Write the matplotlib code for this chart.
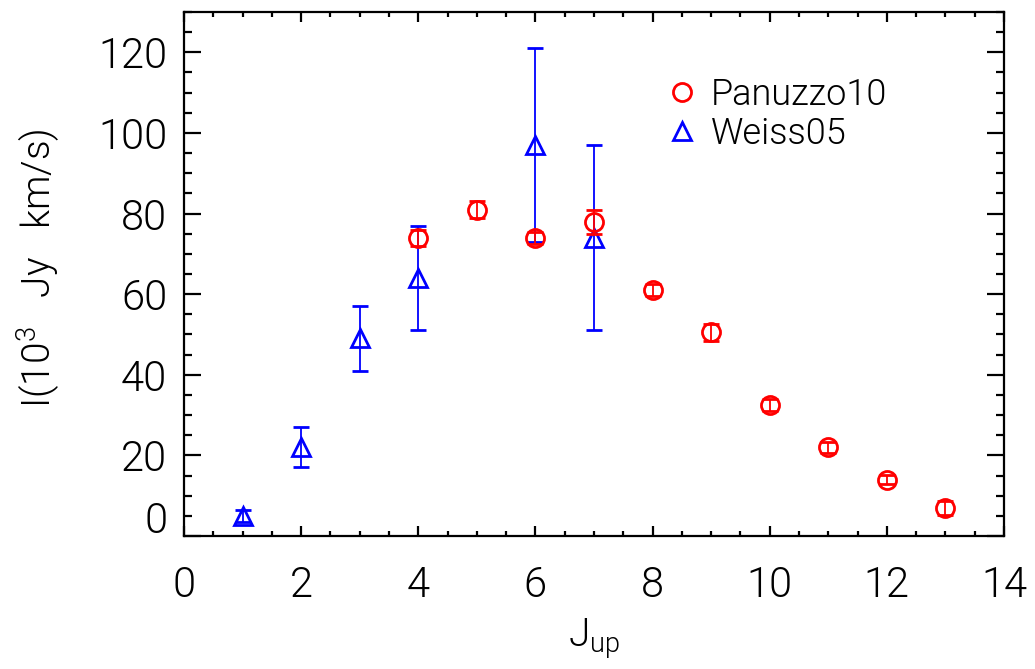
import matplotlib
matplotlib.use("Agg")
import matplotlib.pyplot as plt
from matplotlib.lines import Line2D
from matplotlib.transforms import ScaledTranslation

# ---- data ----
panuzzo_J = [4, 5, 6, 7, 8, 9, 10, 11, 12, 13]
panuzzo_I = [74, 81, 74, 78, 61, 50.5, 32.5, 22, 14, 7]
panuzzo_err = [2, 2.2, 1.5, 3, 1.5, 2.2, 1.5, 1.4, 1.2, 1.8]

weiss_J = [1, 2, 3, 4, 6, 7]
weiss_I = [5, 22, 49, 64, 97, 74]
weiss_err = [1.5, 5, 8, 13, 24, 23]

xticks = [0, 2, 4, 6, 8, 10, 12, 14]
yticks = [0, 20, 40, 60, 80, 100, 120]

FONT = "Roboto"
W = 300
plt.rcParams["font.family"] = [FONT, "DejaVu Sans"]
plt.rcParams["font.weight"] = W
plt.rcParams["axes.labelweight"] = W
plt.rcParams["mathtext.default"] = "regular"

fig = plt.figure(figsize=(10.35, 6.69), dpi=100)
ax = fig.add_axes([184 / 1035, 1 - 536 / 669, 820 / 1035, 524 / 669])

ax.errorbar(weiss_J, weiss_I, yerr=weiss_err, fmt="^", color="blue",
            mfc="none", mec="blue", ms=13, mew=2.0, elinewidth=1.3,
            capsize=6, capthick=1.3, zorder=3)
ax.errorbar(panuzzo_J, panuzzo_I, yerr=panuzzo_err, fmt="o", color="red",
            mfc="none", mec="red", ms=13, mew=2.0, elinewidth=1.3,
            capsize=6, capthick=1.3, zorder=4)

ax.set_xlim(0, 14)
ax.set_ylim(0, 130)
ax.set_xticks(xticks)
ax.set_yticks(yticks)
ax.set_xticks([i * 0.5 for i in range(29)], minor=True)
ax.set_yticks([i * 5 for i in range(27)], minor=True)

for s in ax.spines.values():
    s.set_linewidth(1.6)

ax.tick_params(axis="both", which="both", direction="in", top=True, right=True,
               width=1.6, labelsize=30)
ax.tick_params(axis="x", which="major", length=7.5, pad=21)
ax.tick_params(axis="x", which="minor", length=3.8)
ax.tick_params(axis="y", which="major", length=12, pad=12)
ax.tick_params(axis="y", which="minor", length=6)
for lbl in ax.get_xticklabels() + ax.get_yticklabels():
    lbl.set_fontweight(W)

# shift the bottom "0" label up slightly as in the reference
lbl0 = ax.get_yticklabels()[0]
lbl0.set_transform(lbl0.get_transform() + ScaledTranslation(0, 14 / 72, fig.dpi_scale_trans))

ax.set_xlabel(r"J$_{up}$", fontsize=28, labelpad=7, fontweight=W)
ax.set_ylabel(r"I(10$^{3}$   Jy   km/s)", fontsize=28, fontweight=W)
ax.yaxis.set_label_coords(-0.148, 0.512)

handles = [
    Line2D([], [], ls="none", marker="o", ms=13, mfc="none", mec="red", mew=2.0),
    Line2D([], [], ls="none", marker="^", ms=13, mfc="none", mec="blue", mew=2.0),
]
leg = ax.legend(handles, ["Panuzzo10", "Weiss05"], loc="upper left",
                bbox_to_anchor=(0.585, 0.876), frameon=False,
                prop={"size": 26, "weight": W},
                handlelength=1.0, handletextpad=0.3, labelspacing=0.08,
                borderpad=0, borderaxespad=0)

fig.savefig("out.png", dpi=100)
